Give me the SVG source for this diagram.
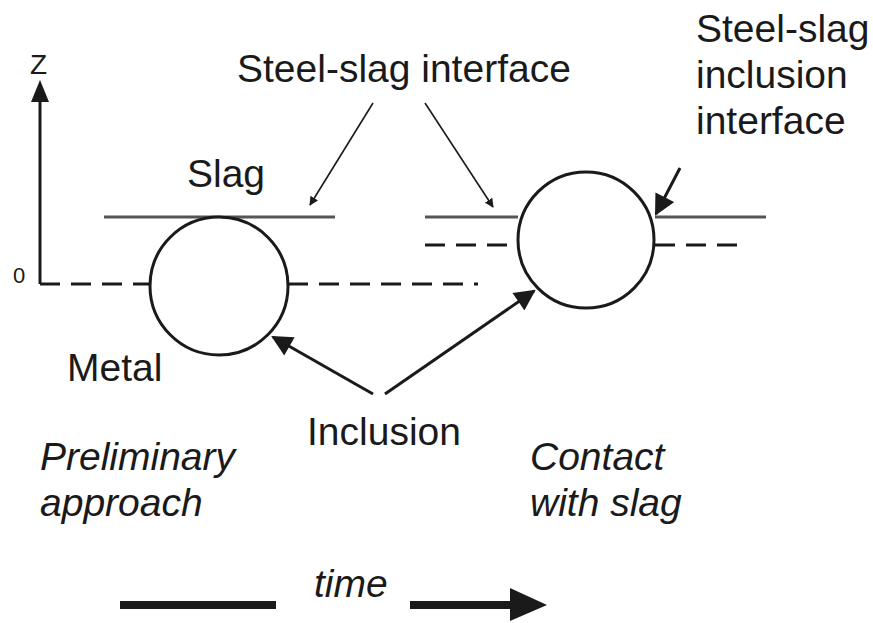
<svg xmlns="http://www.w3.org/2000/svg" width="873" height="623" viewBox="0 0 873 623">
  <defs>
    <marker id="ah" viewBox="0 0 10 10" refX="9" refY="5" markerWidth="9" markerHeight="9" markerUnits="userSpaceOnUse" orient="auto">
      <path d="M0,0 L10,5 L0,10 Z" fill="#1a1a1a"/>
    </marker>
    <marker id="ahBig" viewBox="0 0 10 10" refX="9" refY="5" markerWidth="7.5" markerHeight="7" orient="auto">
      <path d="M0,0 L10,5 L0,10 Z" fill="#1a1a1a"/>
    </marker>
  </defs>
  <style>
    .lbl { font-family: "Liberation Sans", Arial, sans-serif; font-size: 39px; fill: #1a1a1a; }
    .it { font-style: italic; }
    .interface { stroke: #555; stroke-width: 3; fill: none; }
    .dash { stroke: #1a1a1a; stroke-width: 3; stroke-dasharray: 20 11; fill: none; }
    .incl { stroke: #1a1a1a; stroke-width: 3; fill: #fff; }
    .thin { stroke: #1a1a1a; stroke-width: 1.6; fill: none; }
    .med { stroke: #1a1a1a; stroke-width: 3; fill: none; }
  </style>
  <rect width="873" height="623" fill="#fff"/>

  <!-- axis -->
  <g id="axis">
    <line x1="40" y1="284" x2="40" y2="100" class="med"/>
    <polygon points="40,80 31,102 49,102" fill="#1a1a1a"/>
    <text class="lbl" x="30" y="74" style="font-size:28px">Z</text>
    <text class="lbl" x="13" y="283" style="font-size:22px">0</text>
  </g>

  <!-- interfaces -->
  <g id="interfaces">
    <line x1="104" y1="217" x2="335" y2="217" class="interface"/>
    <line x1="40" y1="284" x2="150" y2="284" class="dash"/>
    <line x1="288" y1="284" x2="478" y2="284" class="dash"/>
    <line x1="425" y1="217" x2="518" y2="217" class="interface"/>
    <line x1="655" y1="217" x2="766" y2="217" class="interface"/>
    <line x1="425" y1="245" x2="518" y2="245" class="dash"/>
    <line x1="655" y1="245" x2="740" y2="245" class="dash"/>
  </g>

  <!-- inclusions -->
  <g id="inclusion-approach">
    <circle cx="219" cy="286" r="69" class="incl"/>
  </g>
  <g id="inclusion-contact">
    <circle cx="586" cy="240" r="68" class="incl"/>
  </g>

  <!-- labels -->
  <g id="label-interface"><text class="lbl" x="237" y="82">Steel-slag interface</text></g>
  <g id="label-slag"><text class="lbl" x="187" y="187">Slag</text></g>
  <g id="label-metal"><text class="lbl" x="67" y="381">Metal</text></g>
  <g id="label-inclusion"><text class="lbl" x="307" y="445">Inclusion</text></g>
  <g id="label-inclusion-interface">
    <text class="lbl" x="696" y="42">Steel-slag</text>
    <text class="lbl" x="696" y="88">inclusion</text>
    <text class="lbl" x="696" y="134">interface</text>
  </g>
  <g id="label-approach">
    <text class="lbl it" x="40" y="470">Preliminary</text>
    <text class="lbl it" x="40" y="516">approach</text>
  </g>
  <g id="label-contact">
    <text class="lbl it" x="530" y="470">Contact</text>
    <text class="lbl it" x="530" y="516">with slag</text>
  </g>
  <g id="label-time"><text class="lbl it" x="314" y="597">time</text></g>

  <!-- connectors -->
  <g id="connectors">
    <line x1="373" y1="103" x2="310" y2="205" class="thin" marker-end="url(#ah)"/>
    <line x1="425" y1="103" x2="493" y2="207" class="thin" marker-end="url(#ah)"/>
    <line x1="680" y1="168" x2="656" y2="214" class="med" marker-end="url(#ahBig)"/>
    <line x1="373" y1="394" x2="273" y2="337" class="med" marker-end="url(#ahBig)"/>
    <line x1="385" y1="394" x2="534" y2="291" class="med" marker-end="url(#ahBig)"/>
    <line x1="120" y1="605" x2="276" y2="605" stroke="#1a1a1a" stroke-width="8"/>
    <line x1="410" y1="605" x2="515" y2="605" stroke="#1a1a1a" stroke-width="8"/>
    <polygon points="510,588 547,605 510,621" fill="#1a1a1a"/>
  </g>
</svg>
